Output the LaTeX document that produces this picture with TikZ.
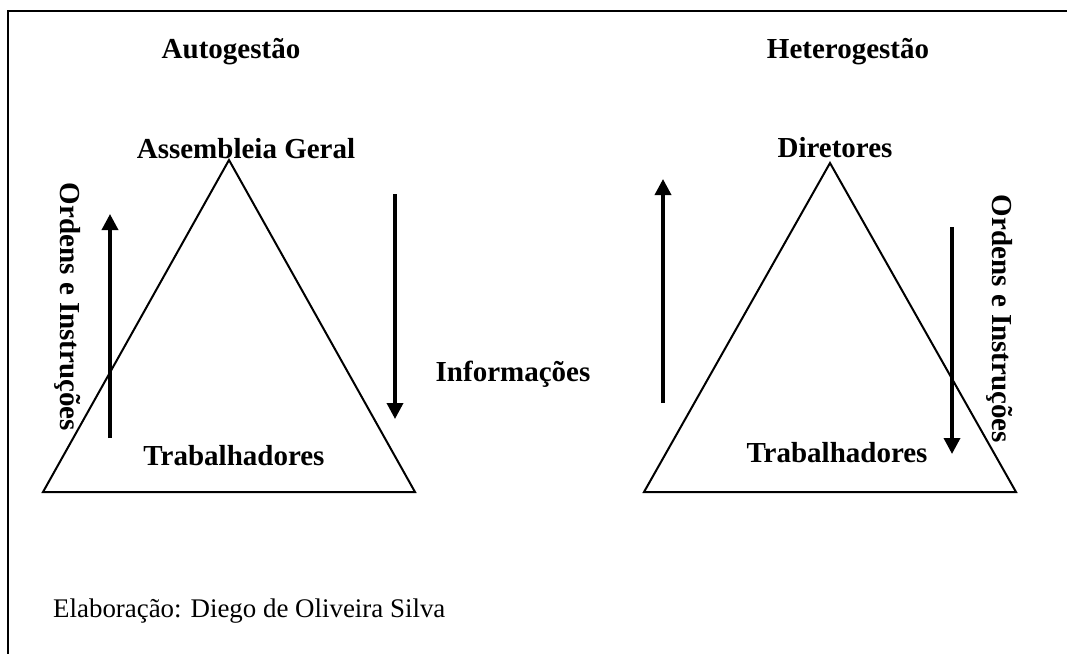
\documentclass[tikz,border=0pt]{standalone}
\usepackage{fontspec}
\setmainfont{Liberation Serif}
\usepackage{tikz}
\usetikzlibrary{arrows.meta}
\tikzset{
  font={\fontsize{29pt}{34pt}\selectfont\bfseries}}

\begin{document}
\begin{tikzpicture}[x=1pt, y=-1pt, every node/.style={inner sep=0pt},
  lbl/.style={anchor=base},
  vlbl/.style={rotate=-90},
  tri/.style={line width=2pt, line join=miter},
  flow/.style={line width=3.5pt, -{Triangle[width=16pt,length=16pt]}}]
  \useasboundingbox (0,0) rectangle (1067,653);
  % frame (open on the right and bottom)
  \draw[line width=2.5pt] (8,660) -- (8,11) -- (1075,11);

  % Autogestao
  \node (auto) [lbl] at (231,58) {Autogestão};
  \node (ag) [lbl] at (246,158) {Assembleia Geral};
  \node (trabA) [lbl] at (234,465) {Trabalhadores};
  \coordinate (a1) at (229,160);
  \coordinate (a2) at (43,492);
  \coordinate (a3) at (415,492);
  \draw[tri] (a1) -- (a2) -- (a3) -- cycle;
  \coordinate (up1s) at (110,438);
  \coordinate (up1e) at (110,214);
  \coordinate (dn1s) at (395,194);
  \coordinate (dn1e) at (395,419);
  \draw[flow] (up1s) -- (up1e);
  \draw[flow] (dn1s) -- (dn1e);
  \node (ordA) [vlbl] at (68,307) {Ordens e Instruções};

  \node (info) [lbl] at (513,381) {Informações};

  % Heterogestao
  \node (hetero) [lbl] at (848,58) {Heterogestão};
  \node (dir) [lbl] at (835,157) {Diretores};
  \node (trabH) [lbl] at (837,462) {Trabalhadores};
  \coordinate (h1) at (830,163);
  \coordinate (h2) at (644,492);
  \coordinate (h3) at (1016,492);
  \draw[tri] (h1) -- (h2) -- (h3) -- cycle;
  \coordinate (up2s) at (663,403);
  \coordinate (up2e) at (663,179);
  \coordinate (dn2s) at (952,227);
  \coordinate (dn2e) at (952,454);
  \draw[flow] (up2s) -- (up2e);
  \draw[flow] (dn2s) -- (dn2e);
  \node (ordH) [vlbl] at (1000,319) {Ordens e Instruções};

  \node (elab) [anchor=base west, font={\fontsize{26.9pt}{32pt}\selectfont}] at (53,617) {Elaboração: Diego de Oliveira Silva};
\end{tikzpicture}
\end{document}
